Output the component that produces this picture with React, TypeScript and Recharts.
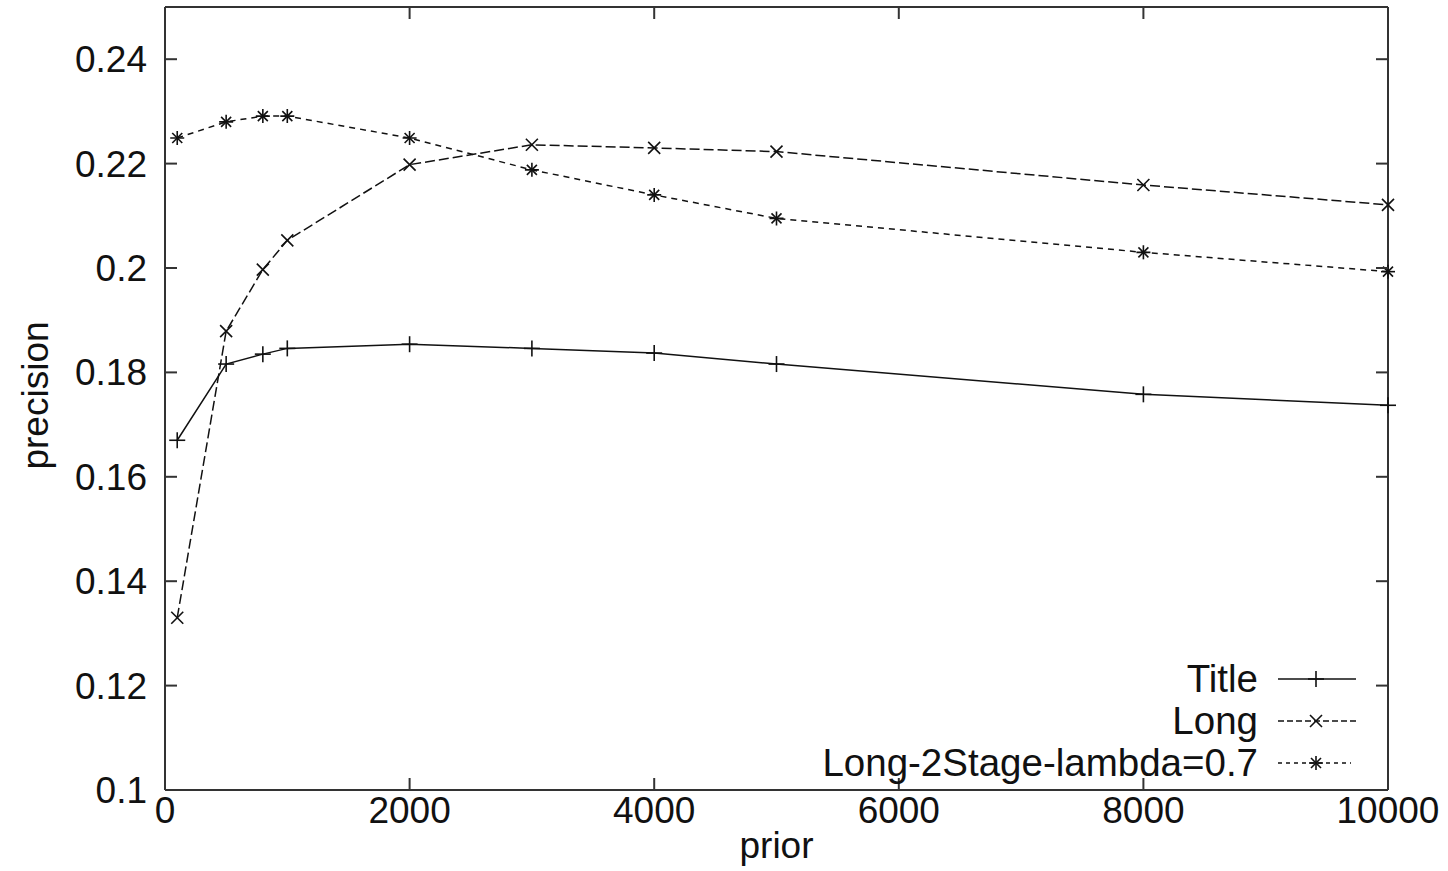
import React from 'react';
import { LineChart, Line, XAxis, YAxis, Legend } from 'recharts';

const priors = [100, 500, 800, 1000, 2000, 3000, 4000, 5000, 8000, 10000];
const titleValues = [0.167, 0.1816, 0.1835, 0.1846, 0.1854, 0.1846, 0.1837, 0.1816, 0.1758, 0.1737];
const longValues = [0.133, 0.1879, 0.1997, 0.2053, 0.2198, 0.2236, 0.2230, 0.2223, 0.2159, 0.2121];
const stageValues = [0.2249, 0.228, 0.2291, 0.2291, 0.2249, 0.2188, 0.214, 0.2095, 0.203, 0.1993];

const xTicks = [0, 2000, 4000, 6000, 8000, 10000];
const yTicks = [0.1, 0.12, 0.14, 0.16, 0.18, 0.2, 0.22, 0.24];

const seriesNames = ['Title', 'Long', 'Long-2Stage-lambda=0.7'];

const data = priors.map((p, i) => ({
  prior: p,
  title: titleValues[i],
  long: longValues[i],
  stage: stageValues[i],
}));

const FONT = '"Liberation Sans", Arial, sans-serif';
const FS = 37;
const LFS = 38.5;
const INK = '#111';
const FRAME = '#333';
const TICK = 12;

const plusShape = (cx: number, cy: number, k: string) => (
  <g key={k} stroke={INK} strokeWidth={1.6}>
    <line x1={cx - 8} y1={cy} x2={cx + 8} y2={cy} />
    <line x1={cx} y1={cy - 8} x2={cx} y2={cy + 8} />
  </g>
);
const crossShape = (cx: number, cy: number, k: string) => (
  <g key={k} stroke={INK} strokeWidth={1.6}>
    <line x1={cx - 6} y1={cy - 6} x2={cx + 6} y2={cy + 6} />
    <line x1={cx - 6} y1={cy + 6} x2={cx + 6} y2={cy - 6} />
  </g>
);
const starShape = (cx: number, cy: number, k: string) => (
  <g key={k} stroke={INK} strokeWidth={1.6}>
    <line x1={cx - 7} y1={cy} x2={cx + 7} y2={cy} />
    <line x1={cx} y1={cy - 7} x2={cx} y2={cy + 7} />
    <line x1={cx - 5} y1={cy - 5} x2={cx + 5} y2={cy + 5} />
    <line x1={cx - 5} y1={cy + 5} x2={cx + 5} y2={cy - 5} />
  </g>
);

const shapes = [plusShape, crossShape, starShape];
const dashes = ['', '10 4', '6 5'];

const mkDot = (shape: (cx: number, cy: number, k: string) => React.ReactElement, name: string) =>
  (props: any) => shape(props.cx, props.cy, `${name}-${props.index}`);

const LeftTick = (props: any) => {
  const { x, y, payload } = props;
  return (
    <g>
      <line x1={x} y1={y} x2={x + TICK} y2={y} stroke={FRAME} strokeWidth={2} />
      <text x={x - 18} y={y} dy="0.35em" textAnchor="end" fontFamily={FONT} fontSize={FS} fill={INK}>
        {payload.value}
      </text>
    </g>
  );
};
const RightTick = (props: any) => {
  const { x, y } = props;
  return <line x1={x - TICK} y1={y} x2={x} y2={y} stroke={FRAME} strokeWidth={2} />;
};
const BottomTick = (props: any) => {
  const { x, y, payload } = props;
  return (
    <g>
      <line x1={x} y1={y} x2={x} y2={y - TICK} stroke={FRAME} strokeWidth={2} />
      <text x={x} y={y + 20} dy="0.35em" textAnchor="middle" fontFamily={FONT} fontSize={FS} fill={INK}>
        {payload.value}
      </text>
    </g>
  );
};
const TopTick = (props: any) => {
  const { x, y } = props;
  return <line x1={x} y1={y} x2={x} y2={y + TICK} stroke={FRAME} strokeWidth={2} />;
};

const renderLegend = () => (
  <div style={{ fontFamily: FONT, fontSize: LFS, color: INK }}>
    {seriesNames.map((name, i) => (
      <div key={name} style={{ display: 'flex', justifyContent: 'flex-end', alignItems: 'center', height: 42 }}>
        <span style={{ lineHeight: '42px' }}>{name}</span>
        <svg width={100} height={20} style={{ marginLeft: 18 }}>
          <line x1={2} y1={10} x2={i === 2 ? 75 : 80} y2={10} stroke={INK} strokeWidth={1.4}
            strokeDasharray={i === 0 ? undefined : i === 1 ? '6 3' : '4 4'} />
          {shapes[i](40, 10, `lg-${i}`)}
        </svg>
      </div>
    ))}
  </div>
);

export default function App() {
  return (
    <div style={{ position: 'absolute', left: 0, top: 0, width: 1448, height: 871, background: '#fff' }}>
      <LineChart
        width={1448}
        height={871}
        data={data}
        margin={{ top: 6, right: 59, bottom: 11, left: 15 }}
      >
        <XAxis
          dataKey="prior"
          type="number"
          domain={[0, 10000]}
          ticks={xTicks}
          height={70}
          tickSize={0}
          tickMargin={0}
          tickLine={false}
          tick={<BottomTick />}
          axisLine={{ stroke: FRAME, strokeWidth: 2 }}
          interval={0}
          label={(p: any) => {
            const vb = p.viewBox;
            return (
              <text x={vb.x + vb.width / 2} y={vb.y + 55} dy="0.35em" textAnchor="middle" fontFamily={FONT} fontSize={FS} fill={INK}>
                prior
              </text>
            );
          }}
        />
        <XAxis
          xAxisId="top"
          orientation="top"
          dataKey="prior"
          type="number"
          domain={[0, 10000]}
          ticks={xTicks}
          height={1}
          tickSize={0}
          tickMargin={0}
          tickLine={false}
          tick={<TopTick />}
          axisLine={{ stroke: FRAME, strokeWidth: 2 }}
          interval={0}
        />
        <YAxis
          type="number"
          domain={[0.1, 0.25]}
          ticks={yTicks}
          width={150}
          tickSize={0}
          tickMargin={0}
          tickLine={false}
          tick={<LeftTick />}
          axisLine={{ stroke: FRAME, strokeWidth: 2 }}
          allowDataOverflow
          interval={0}
          label={(p: any) => {
            const vb = p.viewBox;
            const cx = vb.x + 20;
            const cy = vb.y + vb.height / 2 - 3;
            return (
              <text x={cx} y={cy} dy="0.35em" textAnchor="middle" fontFamily={FONT} fontSize={FS} fill={INK}
                transform={`rotate(-90, ${cx}, ${cy})`}>
                precision
              </text>
            );
          }}
        />
        <YAxis
          yAxisId="right"
          orientation="right"
          type="number"
          domain={[0.1, 0.25]}
          ticks={yTicks}
          width={1}
          tickSize={0}
          tickMargin={0}
          tickLine={false}
          tick={<RightTick />}
          axisLine={{ stroke: FRAME, strokeWidth: 2 }}
          allowDataOverflow
          interval={0}
        />
        <Legend
          content={renderLegend}
          layout="horizontal"
          align="center"
          verticalAlign="middle"
          wrapperStyle={{ position: 'absolute', left: 700, top: 658, width: 676, height: 130 }}
        />
        <Line
          dataKey="title"
          name={seriesNames[0]}
          type="linear"
          stroke={INK}
          strokeWidth={1.5}
          dot={mkDot(shapes[0], 'title')}
          activeDot={false}
          isAnimationActive={false}
        />
        <Line
          dataKey="long"
          name={seriesNames[1]}
          type="linear"
          stroke={INK}
          strokeWidth={1.5}
          strokeDasharray={dashes[1]}
          dot={mkDot(shapes[1], 'long')}
          activeDot={false}
          isAnimationActive={false}
        />
        <Line
          dataKey="stage"
          name={seriesNames[2]}
          type="linear"
          stroke={INK}
          strokeWidth={1.5}
          strokeDasharray={dashes[2]}
          dot={mkDot(shapes[2], 'stage')}
          activeDot={false}
          isAnimationActive={false}
        />
      </LineChart>
    </div>
  );
}
